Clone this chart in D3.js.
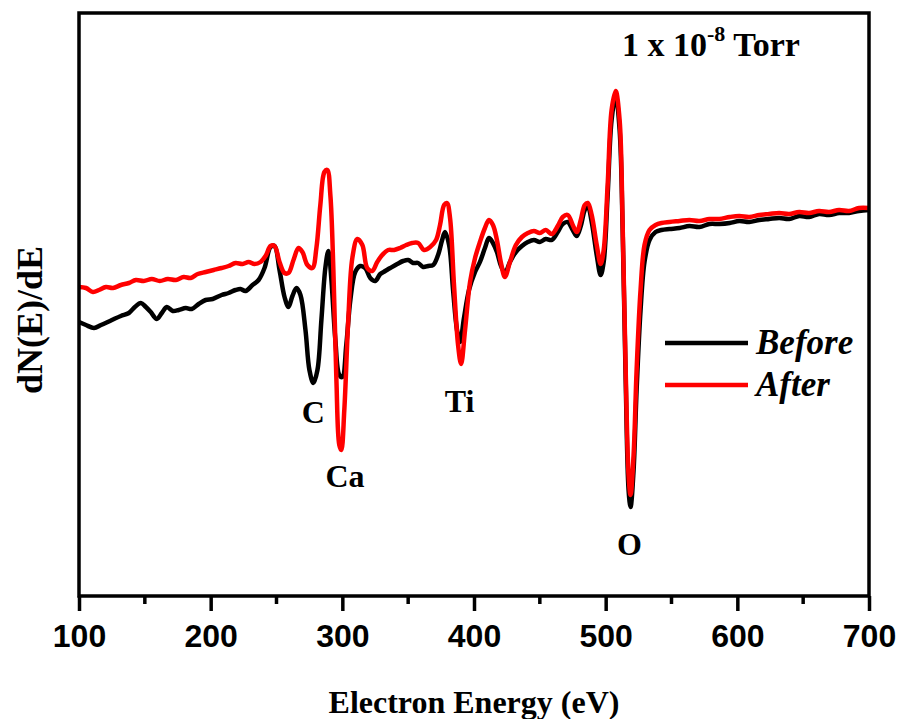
<!DOCTYPE html>
<html>
<head>
<meta charset="utf-8">
<script src="https://cdn.jsdelivr.net/npm/d3@7"></script>
<style>
  body { margin: 0; background: #fff; }
</style>
</head>
<body>
<div id="container"></div>
<script>
// electron energy (eV) and dN(E)/dE in arbitrary units
let energyBefore = [100.0,105.3,111.4,116.7,125.0,131.8,137.9,142.4,147.0,150.8,154.5,159.1,162.9,166.7,171.2,175.8,181.1,185.6,190.9,196.2,
  201.5,208.3,213.6,218.9,222.7,226.5,231.8,236.4,240.9,245.5,248.5,252.3,256.1,259.1,262.1,265.2,268.2,272.0,275.0,278.0,
  281.1,284.1,287.1,289.4,291.7,294.7,297.7,300.0,303.0,306.1,309.8,313.6,317.4,321.2,325.0,328.8,332.6,336.4,341.7,346.2,
  350.0,353.8,357.6,361.4,365.2,369.0,372.7,375.8,378.0,381.1,384.1,387.1,389.4,392.4,396.2,400.8,404.5,408.3,411.4,414.4,
  417.4,420.5,423.5,427.3,431.8,436.4,440.9,445.5,450.0,454.5,459.1,463.6,467.4,471.2,475.0,478.0,481.1,484.1,486.4,489.4,
  493.2,496.2,498.5,501.5,504.5,507.6,510.6,512.9,515.2,517.4,518.9,521.2,523.5,526.5,529.5,533.3,537.9,542.4,548.5,556.1,
  563.6,571.2,578.8,586.4,594.2,601.5,609.1,616.7,624.2,631.8,639.4,647.0,654.5,662.1,669.7,677.3,684.8,692.4,700.0];
let before = [275,272,269,272,277,281,284,290,294,290,285,278,284,290,286,287,289,288,293,297,
  298,302,304,307,308,306,312,317,329,350,351,327,300,290,301,309,302,267,227,214,
  227,277,329,346,317,257,222,220,252,297,325,331,329,319,316,323,326,329,333,336,
  337,334,334,330,331,332,342,357,365,352,307,267,255,279,307,325,335,349,359,354,
  345,331,324,335,345,351,355,357,355,358,357,365,373,375,367,361,371,387,391,375,
  342,322,335,402,477,501,467,367,217,107,90,127,207,287,335,357,365,367,368,369,
  371,370,373,373,374,376,375,377,378,379,378,381,380,383,382,384,384,386,387];

let energyAfter = [100.0,105.3,110.6,115.2,120.5,125.8,131.8,137.9,143.2,149.2,155.3,161.4,167.4,173.5,179.5,184.8,190.2,196.2,202.3,208.3,
  213.6,218.9,224.2,228.8,233.3,237.9,241.7,245.5,248.5,252.3,256.1,259.1,262.9,266.7,269.7,273.5,277.3,280.3,283.3,286.4,
  288.6,290.9,293.2,295.5,297.7,299.2,301.5,304.5,307.6,311.4,315.2,318.9,322.7,326.5,330.3,334.8,339.4,343.9,348.5,353.0,
  357.6,362.1,366.7,371.2,374.2,377.3,379.5,381.8,384.8,387.9,390.2,393.2,397.0,400.8,404.5,408.3,411.4,414.4,417.4,420.5,
  423.5,427.3,431.8,436.4,440.9,445.5,450.0,454.5,459.1,463.6,467.4,471.2,475.0,478.0,481.1,484.1,486.4,489.4,493.2,496.2,
  498.5,501.5,504.5,507.6,510.6,512.9,515.2,517.4,518.9,521.2,523.5,526.5,529.5,533.3,537.9,542.4,548.5,556.1,563.6,571.2,
  578.8,586.4,594.2,601.5,609.1,616.7,624.2,631.8,639.4,647.0,654.5,662.1,669.7,677.3,684.8,692.4,700.0];
let after = [310,309,305,307,310,309,312,314,317,316,318,316,318,317,320,319,323,325,327,329,
  331,334,333,335,333,335,341,351,351,335,324,324,337,349,345,332,329,349,392,425,
  427,402,327,217,152,147,187,277,339,358,352,329,326,335,342,347,347,349,352,354,
  354,347,350,357,372,392,394,379,312,252,233,267,315,339,355,369,377,372,357,334,
  320,335,352,360,364,366,364,367,363,371,380,382,372,365,377,392,394,382,352,333,
  347,412,487,506,477,372,227,122,102,142,227,307,352,367,372,374,375,376,377,376,
  378,378,380,381,380,382,383,384,383,385,384,386,385,387,386,389,389];

let xTicks = [100, 200, 300, 400, 500, 600, 700];
let xMinor = [150, 250, 350, 450, 550, 650];

let peakNames = ["C", "Ca", "Ti", "O"];
let peakEnergy = [278, 302, 389, 518];
let peakLabelY = [174, 110, 185, 42];

let w = 902;
let h = 719;

let viz = d3.select("#container")
  .append("svg")
  .attr("width", w)
  .attr("height", h)
  .style("background-color", "#fff");

let xScale = d3.scaleLinear()
  .domain([100, 700])
  .range([79, 869]);

let yScale = d3.scaleLinear()
  .domain([1, 584])
  .range([596, 13]);

let lineMaker = d3.line()
  .x(d => xScale(d[0]))
  .y(d => yScale(d[1]))
  .curve(d3.curveCatmullRom);

let beforeData = d3.zip(energyBefore, before);
let afterData = d3.zip(energyAfter, after);

viz.selectAll(".spectrum")
  .data([
    {data: beforeData, color: "#000"},
    {data: afterData, color: "#f00"}
  ])
  .enter()
  .append("path")
  .attr("class", "spectrum")
  .attr("fill", "none")
  .attr("stroke", d => d.color)
  .attr("stroke-width", 4.5)
  .attr("stroke-linejoin", "round")
  .attr("d", d => lineMaker(d.data));

// frame
viz.append("rect")
  .attr("x", 79)
  .attr("y", 13)
  .attr("width", 790)
  .attr("height", 583)
  .attr("fill", "none")
  .attr("stroke", "#000")
  .attr("stroke-width", 3.5);

// x axis with major and minor ticks
let xAxis = viz.append("g")
  .attr("transform", "translate(0, 596)")
  .call(d3.axisBottom(xScale).tickValues(xTicks).tickSize(15).tickPadding(13).tickFormat(d3.format("d")));
xAxis.select(".domain").remove();
xAxis.selectAll("line").attr("stroke-width", 3.5);
xAxis.selectAll("text")
  .style("font-family", "'Liberation Sans', Arial, sans-serif")
  .style("font-weight", "bold")
  .style("font-size", "32px")
  .attr("fill", "#000");

viz.append("g")
  .selectAll("line")
  .data(xMinor)
  .enter()
  .append("line")
  .attr("x1", d => xScale(d))
  .attr("x2", d => xScale(d))
  .attr("y1", 596)
  .attr("y2", 604)
  .attr("stroke", "#000")
  .attr("stroke-width", 3.5);

let serif = "'Liberation Serif', 'Times New Roman', serif";

viz.append("text")
  .attr("x", 474)
  .attr("y", 713)
  .attr("text-anchor", "middle")
  .style("font-family", serif)
  .style("font-weight", "bold")
  .style("font-size", "32px")
  .text("Electron Energy (eV)");

viz.append("text")
  .attr("transform", "translate(42, 320) rotate(-90)")
  .attr("text-anchor", "middle")
  .style("font-family", serif)
  .style("font-weight", "bold")
  .style("font-size", "36px")
  .text("dN(E)/dE");

// peak labels
viz.selectAll(".peak")
  .data(peakNames)
  .enter()
  .append("text")
  .attr("class", "peak")
  .attr("x", (d, i) => xScale(peakEnergy[i]))
  .attr("y", (d, i) => yScale(peakLabelY[i]))
  .attr("text-anchor", "middle")
  .style("font-family", serif)
  .style("font-weight", "bold")
  .style("font-size", "32px")
  .text(d => d);

// pressure note
let note = viz.append("text")
  .attr("x", 622)
  .attr("y", 56)
  .style("font-family", serif)
  .style("font-weight", "bold")
  .style("font-size", "34px");
note.append("tspan").text("1 x 10");
note.append("tspan").attr("dy", -15).style("font-size", "22px").text("-8");
note.append("tspan").attr("dy", 15).text(" Torr");

// legend
let legend = viz.append("g");
let legendRows = legend.selectAll("g")
  .data([{name: "Before", color: "#000"}, {name: "After", color: "#f00"}])
  .enter()
  .append("g")
  .attr("transform", (d, i) => `translate(0, ${343 + i * 42})`);
legendRows.append("line")
  .attr("x1", 665)
  .attr("x2", 748)
  .attr("stroke", d => d.color)
  .attr("stroke-width", 4.5);
legendRows.append("text")
  .attr("x", 756)
  .attr("y", 11)
  .style("font-family", serif)
  .style("font-style", "italic")
  .style("font-weight", "bold")
  .style("font-size", "35px")
  .text(d => d.name);
</script>
</body>
</html>
